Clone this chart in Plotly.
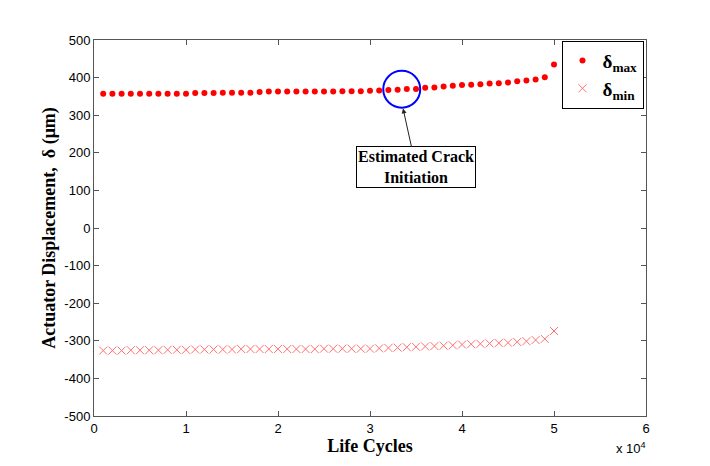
import plotly.graph_objects as go

# Life cycles at which displacement was sampled (every 1000 cycles)
cycles = [1000 * i for i in range(1, 51)]

# Peak actuator displacement per sampled cycle (µm)
delta_max = [357, 357, 357, 357, 357, 357, 357, 357, 357, 357,
             359, 359, 359, 360, 360, 360, 360, 362, 363, 363,
             363, 363, 363, 363, 363, 363, 364, 364, 364, 365,
             366, 367, 368, 370, 370, 373, 374, 376, 378, 380,
             381, 382, 384, 385, 387, 390, 392, 395, 401, 435]

# Minimum actuator displacement per sampled cycle (µm)
delta_min = [-326, -326, -326, -325, -325, -325, -325, -324, -324, -324,
             -323, -323, -323, -323, -323, -322, -322, -322, -322, -322,
             -322, -322, -322, -322, -321, -321, -321, -321, -321, -321,
             -320, -319, -318, -317, -316, -315, -314, -313, -312, -310,
             -309, -308, -307, -306, -305, -303, -301, -298, -295, -274]

x_ticks = [0, 10000, 20000, 30000, 40000, 50000, 60000]
x_tick_labels = ["0", "1", "2", "3", "4", "5", "6"]
y_ticks = [500, 400, 300, 200, 100, 0, -100, -200, -300, -400, -500]
y_tick_labels = ["500", "400", "300", "200", "100", "0",
                 "-100", "-200", "-300", "-400", "-500"]

serif = "Liberation Serif"
sans = "Liberation Sans"
axis_col = "#555555"

fig = go.Figure()
fig.add_trace(go.Scatter(
    x=cycles, y=delta_max, mode="markers", name="<b>δ<sub>max</sub></b>",
    marker=dict(symbol="circle", size=6, color="#ff0000"),
))
fig.add_trace(go.Scatter(
    x=cycles, y=delta_min, mode="markers", name="<b>δ<sub>min</sub></b>",
    marker=dict(symbol="x-thin-open", size=8, color="#ff7070",
                line=dict(width=1, color="#ff7070")),
))

# Circle marking the estimated crack initiation point
fig.add_shape(type="circle", xref="x", yref="y",
              x0=31440, x1=35460, y0=320, y1=418,
              line=dict(color="#0000ff", width=2))

fig.add_annotation(
    x=33590, y=318, xref="x", yref="y",
    text="<b>Estimated Crack<br>Initiation</b>",
    showarrow=True, ax=13, ay=59,
    arrowhead=2, arrowsize=1, arrowwidth=1, arrowcolor="#222222",
    font=dict(family=serif, size=16, color="black"),
    bordercolor="black", borderwidth=1, borderpad=1, bgcolor="white",
    align="center",
)

# Exponent label for the x axis
fig.add_annotation(
    x=1.0, y=0, xref="paper", yref="paper", xanchor="right", yanchor="top",
    yshift=-22, xshift=2,
    text="x 10<sup>4</sup>", showarrow=False,
    font=dict(family=sans, size=13, color="black"),
)

fig.update_layout(
    width=710, height=466,
    margin=dict(l=94, r=64, t=40, b=50),
    paper_bgcolor="white", plot_bgcolor="white",
    showlegend=True,
    legend=dict(
        x=0.9955, y=0.998, xanchor="right", yanchor="top",
        bordercolor="black", borderwidth=1, bgcolor="white",
        font=dict(family=serif, size=19, color="black"),
        itemwidth=30,
    ),
    xaxis=dict(
        range=[0, 60000], tickvals=x_ticks, ticktext=x_tick_labels,
        ticks="inside", ticklen=5, tickcolor=axis_col,
        showline=True, linecolor=axis_col, linewidth=1, mirror="ticks",
        showgrid=False, zeroline=False,
        tickfont=dict(family=sans, size=13, color="black"),
        title=dict(text="<b>Life Cycles</b>", standoff=2,
                   font=dict(family=serif, size=18, color="black")),
    ),
    yaxis=dict(
        range=[-500, 500], tickvals=y_ticks, ticktext=y_tick_labels,
        ticks="inside", ticklen=5, tickcolor=axis_col,
        showline=True, linecolor=axis_col, linewidth=1, mirror="ticks",
        showgrid=False, zeroline=False,
        tickfont=dict(family=sans, size=13, color="black"),
        title=dict(text="<b>Actuator Displacement,  δ (μm)</b>", standoff=4,
                   font=dict(family=serif, size=18, color="black")),
    ),
)

fig.write_html("out.html")
